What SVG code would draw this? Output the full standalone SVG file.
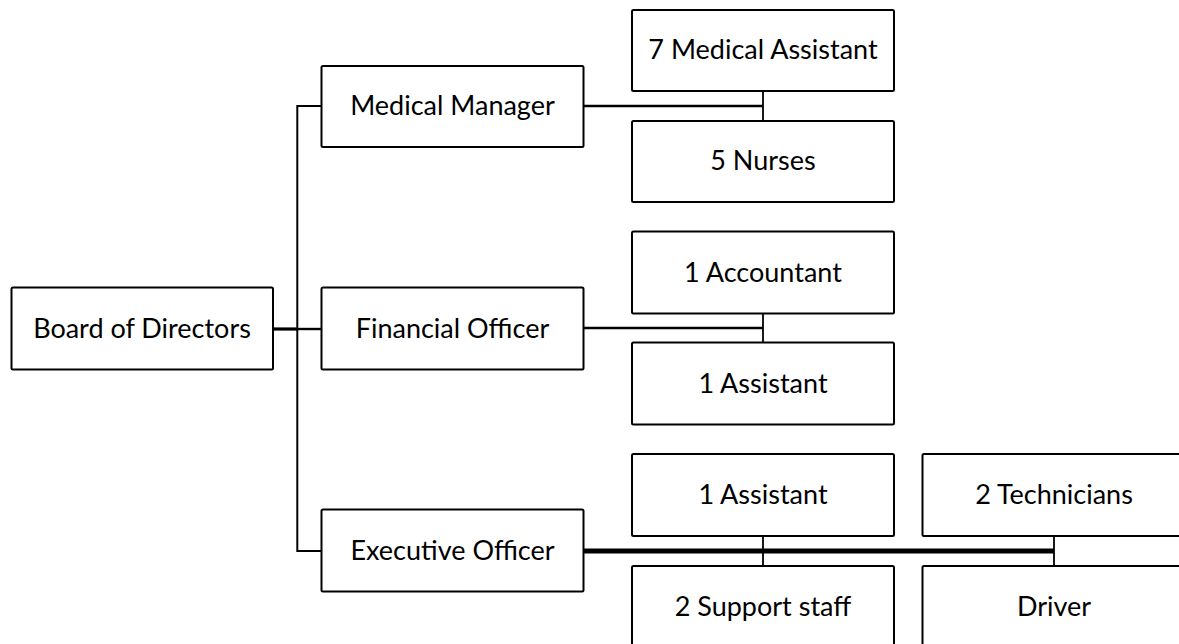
<svg xmlns="http://www.w3.org/2000/svg" width="1179" height="644" viewBox="0 0 1179 644">
<style>
.box{fill:#fff;stroke:#000;stroke-width:2}
.t{font-family:Lato,"Open Sans","Liberation Sans",sans-serif;font-size:27px;fill:#000;text-anchor:middle}
.c{stroke:#000;fill:none;stroke-linecap:butt}
</style>
<rect width="1179" height="644" fill="#fff"/>
<g id="connectors">
<line class="c" x1="273" y1="329" x2="297" y2="329" stroke-width="3.2"/>
<line class="c" x1="297" y1="329" x2="321" y2="329" stroke-width="2.4"/>
<polyline class="c" points="321,106 297.3,106 297.3,551 321,551" stroke-width="2"/>
<line class="c" x1="583" y1="106" x2="763" y2="106" stroke-width="2.6"/>
<line class="c" x1="763" y1="91" x2="763" y2="121" stroke-width="1.8"/>
<line class="c" x1="583" y1="328" x2="763" y2="328" stroke-width="2.6"/>
<line class="c" x1="763" y1="313" x2="763" y2="343" stroke-width="1.8"/>
<line class="c" x1="583" y1="551" x2="1054" y2="551" stroke-width="5"/>
<line class="c" x1="763" y1="536" x2="763" y2="566" stroke-width="1.8"/>
<line class="c" x1="1054" y1="536" x2="1054" y2="566" stroke-width="1.8"/>
</g>
<g id="board"><rect class="box" x="11.5" y="287.5" width="261.5" height="82" rx="1.5"/><text class="t" x="142" y="337.5">Board of Directors</text></g>
<g id="medical-manager"><rect class="box" x="321.5" y="66" width="262" height="81" rx="1.5"/><text class="t" x="452.5" y="115">Medical Manager</text></g>
<g id="financial-officer"><rect class="box" x="321.5" y="287.5" width="262" height="82" rx="1.5"/><text class="t" x="452.5" y="337.5">Financial Officer</text></g>
<g id="executive-officer"><rect class="box" x="321.5" y="509.5" width="262" height="82" rx="1.5"/><text class="t" x="452.5" y="559.5">Executive Officer</text></g>
<g id="medical-assistant"><rect class="box" x="632" y="10" width="262" height="81" rx="1.5"/><text class="t" x="763" y="59">7 Medical Assistant</text></g>
<g id="nurses"><rect class="box" x="632" y="121" width="262" height="81" rx="1.5"/><text class="t" x="763" y="170">5 Nurses</text></g>
<g id="accountant"><rect class="box" x="632" y="231.5" width="262" height="82" rx="1.5"/><text class="t" x="763" y="281.5">1 Accountant</text></g>
<g id="fin-assistant"><rect class="box" x="632" y="342.5" width="262" height="82" rx="1.5"/><text class="t" x="763" y="392.5">1 Assistant</text></g>
<g id="exec-assistant"><rect class="box" x="632" y="454" width="262" height="82" rx="1.5"/><text class="t" x="763" y="504">1 Assistant</text></g>
<g id="support-staff"><rect class="box" x="632" y="566" width="262" height="90" rx="1.5"/><text class="t" x="763" y="615.5">2 Support staff</text></g>
<g id="technicians"><rect class="box" x="922.5" y="454" width="270" height="82" rx="1.5"/><text class="t" x="1054" y="504">2 Technicians</text></g>
<g id="driver"><rect class="box" x="922.5" y="566" width="270" height="90" rx="1.5"/><text class="t" x="1054" y="615.5">Driver</text></g>
</svg>
